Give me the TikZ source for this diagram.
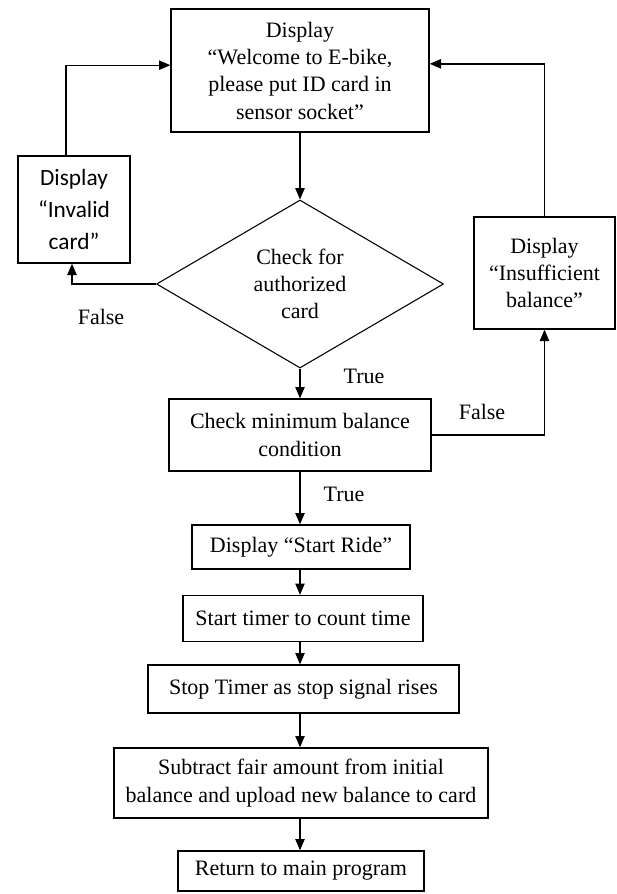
\documentclass[tikz,border=0pt]{standalone}
\usepackage{fontspec}
\setmainfont{Liberation Serif}
\newfontfamily\calib{Carlito}
\usetikzlibrary{shapes.geometric,arrows.meta}
\begin{document}
\begin{tikzpicture}[x=0.75pt,y=-0.75pt,
  txt/.style={font=\fontsize{16.5}{20.5}\selectfont},
  box/.style={txt,draw,line width=1pt,inner sep=0pt,align=center},
  flow/.style={line width=1pt,-{Triangle[length=8.5pt,width=7pt]}}]
\useasboundingbox (0,0) rectangle (617,894);

% main column
\node[box,minimum width=193.5pt,minimum height=92.25pt] (welcome) at (300,70.5)
  {Display\\“Welcome to E-bike,\\please put ID card in\\sensor socket”};
\node[txt,draw,line width=0.8pt,diamond,inner sep=0pt,align=center,
  minimum width=215.25pt,minimum height=126pt] (auth) at (300,284)
  {Check for\\authorized\\card};
\node[box,minimum width=196.5pt,minimum height=54pt] (check) at (300,435)
  {Check minimum balance\\condition};
\node[box,minimum width=163.5pt,minimum height=33pt] (ride) at (301,547)
  {Display “Start Ride”};
\node[box,minimum width=180pt,minimum height=34.5pt] (timer) at (303,618.5)
  {Start timer to count time};
\node[box,minimum width=233.25pt,minimum height=36pt] (stop) at (303.5,689)
  {Stop Timer as stop signal rises};
\node[box,minimum width=280.5pt,minimum height=52.5pt] (subtract) at (301,783)
  {Subtract fair amount from initial\\balance and upload new balance to card};
\node[box,minimum width=184.5pt,minimum height=30pt] (return) at (301,871)
  {Return to main program};

% side boxes
\node[draw,line width=1pt,inner sep=0pt,align=center,
  font=\calib\fontsize{17.5}{24}\selectfont,
  minimum width=84pt,minimum height=80.25pt] (invalid) at (74,209.5)
  {Display\\“Invalid\\card”};
\node[box,minimum width=105.75pt,minimum height=84pt] (insuf) at (544.5,273)
  {Display\\“Insufficient\\balance”};

% connectors
\draw[flow] (welcome.south) -- (auth.north);
\draw[flow] (auth.south) -- (check.north);
\draw[flow] (check.south) -- (ride.north -| check.south);
\draw[flow] (ride.south -| check.south) -- (timer.north -| check.south);
\draw[flow] (timer.south -| check.south) -- (stop.north -| check.south);
\draw[flow] (stop.south -| check.south) -- (subtract.north -| check.south);
\draw[flow] (subtract.south -| check.south) -- (return.north -| check.south);
\draw[flow] (auth.west) -| ([xshift=-1.5pt]invalid.south);
\draw[flow] ([xshift=-6pt]invalid.north) |- ([yshift=4pt]welcome.west);
\draw[flow] (check.east) -| (insuf.south);
\draw[flow] (insuf.north) |- ([yshift=5pt]welcome.east);

% branch labels
\node[txt] (f1) at (101,317) {False};
\node[txt] (t1) at (364,376) {True};
\node[txt] (f2) at (482,412) {False};
\node[txt] (t2) at (344,494) {True};
\end{tikzpicture}
\end{document}
